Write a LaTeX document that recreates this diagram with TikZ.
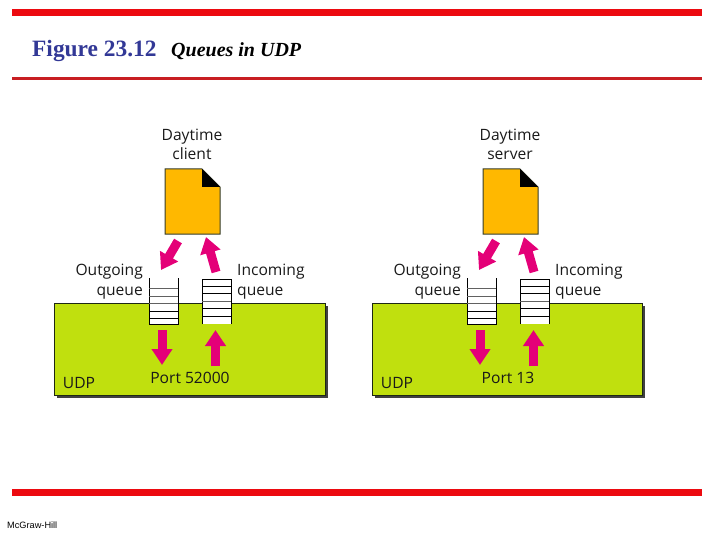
\documentclass[tikz,border=0pt]{standalone}
\usepackage{fontspec}
\setmainfont{Liberation Serif}
\newfontfamily\lblfont{Open Sans}
\newfontfamily\smallfont{Liberation Sans}
\usetikzlibrary{arrows.meta}
\definecolor{barred}{RGB}{236,10,16}
\definecolor{thinred}{RGB}{200,30,34}
\definecolor{titleblue}{RGB}{50,56,150}
\definecolor{udpgreen}{RGB}{192,224,14}
\definecolor{docorange}{RGB}{255,184,0}
\definecolor{arrowpink}{RGB}{228,0,120}
\definecolor{darkoutline}{RGB}{30,40,20}
\tikzset{
  bar/.style={fill=barred,draw=none},
  lbl/.style={font=\lblfont\fontsize{15.6}{15.6}\selectfont,text=black!90,inner sep=0pt},
  blockarrow/.style={draw=arrowpink,line width=9pt,-{Triangle[width=20pt,length=16pt,fill=arrowpink]}},
  qline/.style={line width=0.9pt,draw=black},
  qgray/.style={line width=0.9pt,draw=black!62},
  udpbox/.style={fill=udpgreen,draw=darkoutline,line width=1pt},
  shadowbox/.style={fill=black!75,draw=none},
  docbody/.style={fill=docorange,draw=darkoutline!90,line width=1pt},
}
\newcommand{\udpside}[9]{%
  % #1 prefix, #2 shift, #3 box width, #4 first label, #5 second label, #6 port, #7 port x
  \begin{scope}[xshift=#2pt]
    \fill[shadowbox] (57,306) rectangle ({54+#3+2.5},398);
    \draw[udpbox] (54,303) rectangle ({54+#3},395);
    \draw[docbody] (165,169) -- (202,169) -- (220,187) -- (220,234) -- (165,234) -- cycle;
    \fill[black] (202,169) -- (220,187) -- (202,187) -- cycle;
    \node[lbl,align=center,anchor=center] (#1name) at (192,144) {#4\\[3.5pt]#5};
    \node[lbl,align=right,anchor=east] (#1out) at (#8,281.5) {Outgoing\\[4.5pt]queue};
    \node[lbl,align=left,anchor=west] (#1inc) at (#9,281.5) {Incoming\\[4.5pt]queue};
    \node[lbl,anchor=center] (#1udp) at (79,383) {UDP};
    \node[lbl,anchor=center] (#1port) at (#7,378) {#6};
    % outgoing queue, open at the top
    \fill[white] (149,279) rectangle (178,324);
    \draw[qline] (149,278) -- (149,324) -- (178,324) -- (178,278);
    \draw[qgray] (149,288) -- (178,288);
    \draw[qgray] (149,296) -- (178,296);
    \draw[qgray] (149,303) -- (178,303);
    \draw[qline] (149,311) -- (178,311);
    \draw[qline] (149,318) -- (178,318);
    % incoming queue, open at the bottom
    \fill[white] (202,279) rectangle (231,324);
    \draw[qline] (202,324) -- (202,279) -- (231,279) -- (231,324);
    \draw[qline] (202,286) -- (231,286);
    \draw[qline] (202,293) -- (231,293);
    \draw[qgray] (202,301) -- (231,301);
    \draw[qline] (202,308) -- (231,308);
    \draw[qline] (202,316) -- (231,316);
    % arrows
    \coordinate (#1a) at (178,241); \coordinate (#1b) at (161,270);
    \coordinate (#1c) at (216,272); \coordinate (#1d) at (206,237);
    \coordinate (#1e) at (162,330); \coordinate (#1f) at (162,365);
    \coordinate (#1g) at (215.5,366); \coordinate (#1h) at (215.5,330);
    \draw[blockarrow] (#1a) -- (#1b);
    \draw[blockarrow] (#1c) -- (#1d);
    \draw[blockarrow] (#1e) -- (#1f);
    \draw[blockarrow] (#1g) -- (#1h);
  \end{scope}}
\begin{document}
\begin{tikzpicture}[x=1pt,y=-1pt]
\useasboundingbox (0,0) rectangle (720,540);
\fill[bar] (12,9) rectangle (702,16);
\fill[thinred] (12,77) rectangle (702,80);
\fill[bar] (12,489) rectangle (702,496);
\node[anchor=base west,inner sep=0pt,text=titleblue,font=\bfseries\fontsize{23.4}{23.4}\selectfont] (title) at (32,57) {Figure 23.12};
\node[anchor=base west,inner sep=0pt,font=\bfseries\itshape\fontsize{20}{20}\selectfont] (subtitle) at (171,57) {Queues in UDP};
\node[anchor=base west,inner sep=0pt,font=\smallfont\fontsize{9.2}{9.2}\selectfont] (brand) at (7,528) {McGraw-Hill};
\udpside{l}{0}{271}{Daytime}{client}{Port 52000}{190}{143}{237}
\udpside{r}{318}{270}{Daytime}{server}{Port 13}{190}{143}{237}
\end{tikzpicture}
\end{document}
